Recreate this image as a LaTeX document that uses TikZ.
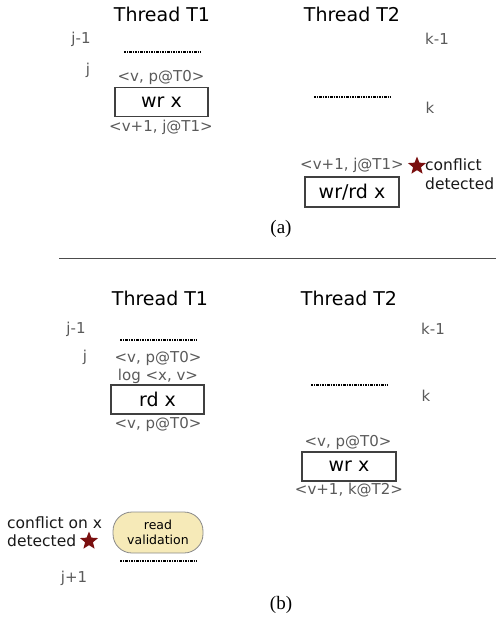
\documentclass[tikz,border=0pt]{standalone}
\usepackage{fontspec}
\setmainfont{DejaVu Sans}
\newfontfamily\capfont{Liberation Serif}
\usetikzlibrary{shapes.geometric}
\definecolor{labelgray}{HTML}{5A5A5A}
\definecolor{starred}{HTML}{7A0F0F}
\definecolor{valfill}{HTML}{F6EAB8}
\definecolor{valedge}{HTML}{8A8A8A}
\tikzset{
  thread/.style={font=\fontsize{19}{22}\selectfont, text=black, inner sep=0pt},
  idx/.style={font=\fontsize{15}{17}\selectfont, text=labelgray, inner sep=0pt},
  ver/.style={font=\fontsize{15}{17}\selectfont, text=labelgray, inner sep=0pt},
  opbox/.style={draw=black!75, line width=1.1pt, font=\fontsize{19}{22}\selectfont,
    minimum width=93pt, minimum height=29pt, inner sep=0pt},
  note/.style={font=\fontsize{15.5}{18.5}\selectfont, text=black!90, align=left, inner sep=0pt},
  conflictstar/.style={star, star points=5, star point ratio=2.3, fill=starred, draw=none,
    minimum size=19pt, inner sep=0pt},
  sep/.style={line width=1.2pt, black, dash pattern=on 2.4pt off 1pt on 1pt off 1pt},
  caption/.style={font=\capfont\fontsize{19}{22}\selectfont, inner sep=0pt},
  valbox/.style={draw=valedge, fill=valfill, line width=0.8pt, rounded corners=19pt,
    minimum width=90pt, minimum height=41pt, align=center, inner sep=0pt,
    font=\fontsize{12.5}{15}\selectfont}
}
\begin{document}
\begin{tikzpicture}[x=1pt, y=-1pt]
\useasboundingbox (0,0) rectangle (496,623);

% ---- part (a): write followed by a conflicting access ----
\node[thread] (a1) at (162,14) {Thread T1};
\node[thread] (a2) at (352,14) {Thread T2};

\node[idx] (aj0) at (81,39) {j-1};
\coordinate (as1l) at (124,52); \coordinate (as1r) at (200,52);
\draw[sep] (as1l) -- (as1r);
\node[idx] (aj1) at (88,70) {j};
\node[ver] (av0) at (161,77) {<v, p@T0>};
\node[opbox] (awr) at (161.5,102) {wr x};
\node[ver] (av1) at (161,127) {<v+1, j@T1>};

\node[idx] (ak0) at (437,39) {k-1};
\coordinate (as2l) at (314,97); \coordinate (as2r) at (390,97);
\draw[sep] (as2l) -- (as2r);
\node[idx] (ak1) at (430,108) {k};
\node[ver] (av2) at (352,165) {<v+1, j@T1>};
\node[conflictstar] (astar) at (417,166) {};
\node[note, anchor=west] (anote) at (425,174) {conflict\\detected};
\node[opbox, minimum width=94pt, minimum height=30pt] (awrd) at (352,192) {wr/rd x};

\node[caption] (acap) at (281,229) {(a)};

% divider between the two parts
\coordinate (divl) at (59,258); \coordinate (divr) at (496,258);
\draw[black!70, line width=1pt] (divl) -- (divr);

% ---- part (b): read later invalidated by a write ----
\node[thread] (b1) at (160,298) {Thread T1};
\node[thread] (b2) at (349,298) {Thread T2};

\node[idx] (bj0) at (76,329) {j-1};
\coordinate (bs1l) at (120,340); \coordinate (bs1r) at (196,340);
\draw[sep] (bs1l) -- (bs1r);
\node[idx] (bj1) at (85,357) {j};
\node[ver] (bv0) at (158,358) {<v, p@T0>};
\node[ver] (blog) at (158,376) {log <x, v>};
\node[opbox] (brd) at (157.5,399.5) {rd x};
\node[ver] (bv1) at (158,424) {<v, p@T0>};

\node[idx] (bk0) at (433,329) {k-1};
\coordinate (bs2l) at (311,385); \coordinate (bs2r) at (387,385);
\draw[sep] (bs2l) -- (bs2r);
\node[idx] (bk1) at (426,396) {k};
\node[ver] (bv2) at (348,442) {<v, p@T0>};
\node[opbox, minimum width=94pt] (bwr) at (349,466.5) {wr x};
\node[ver] (bv3) at (349,490) {<v+1, k@T2>};

\node[note, anchor=west] (bnote) at (7,531.5) {conflict on x\\detected};
\node[conflictstar] (bstar) at (89,541) {};
\node[valbox] (bval) at (158,532.5) {read\\validation};
\coordinate (bs3l) at (120,561); \coordinate (bs3r) at (196,561);
\draw[sep] (bs3l) -- (bs3r);
\node[idx] (bj2) at (74,578) {j+1};

\node[caption] (bcap) at (281,605) {(b)};
\end{tikzpicture}
\end{document}
